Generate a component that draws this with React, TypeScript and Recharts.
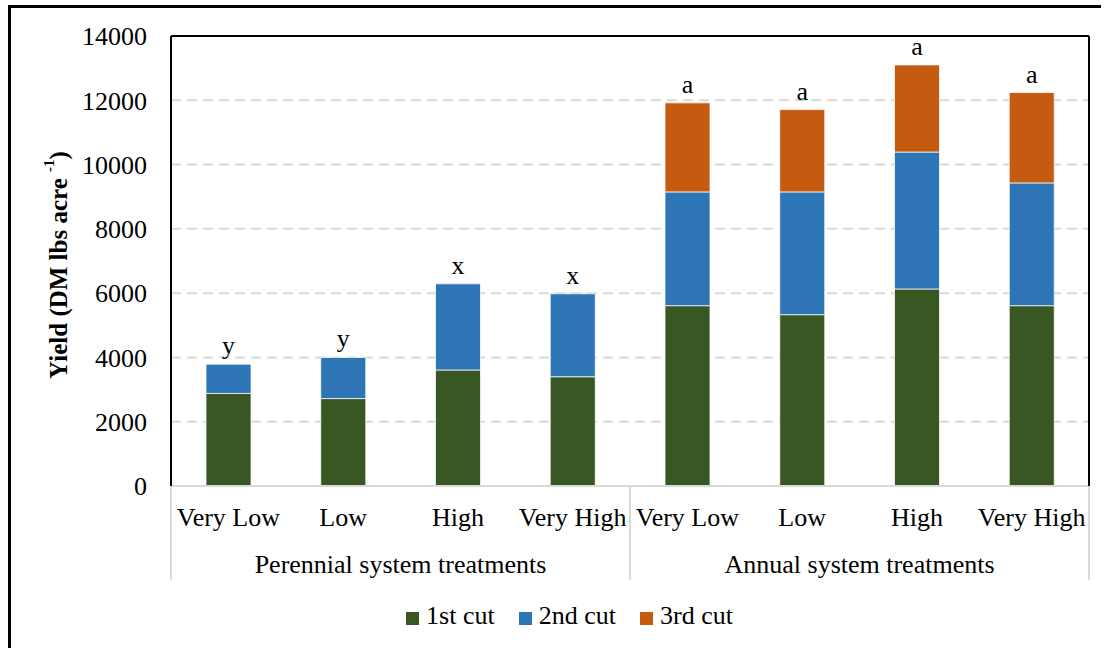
import { BarChart, Bar, XAxis, YAxis, CartesianGrid, Legend, LabelList, Label } from 'recharts'

const CATEGORIES = ['Very Low', 'Low', 'High', 'Very High', 'Very Low', 'Low', 'High', 'Very High']
const GROUPS = ['Perennial system treatments', 'Annual system treatments']
const FIRST_CUT = [2880, 2720, 3610, 3400, 5610, 5330, 6130, 5610]
const SECOND_CUT = [910, 1280, 2680, 2580, 3540, 3820, 4260, 3820]
const THIRD_CUT = [0, 0, 0, 0, 2770, 2560, 2710, 2810]
const LETTERS = ['y', 'y', 'x', 'x', 'a', 'a', 'a', 'a']
const Y_TICKS = [0, 2000, 4000, 6000, 8000, 10000, 12000, 14000]

const FONT = "'Liberation Serif', 'Times New Roman', serif"
const GREEN = '#385723'
const BLUE = '#2E75B6'
const ORANGE = '#C55A11'
const LIGHT = '#D9D9D9'

const data = CATEGORIES.map((name, i) => ({
  name,
  group: GROUPS[i < 4 ? 0 : 1],
  first: FIRST_CUT[i],
  second: SECOND_CUT[i],
  third: THIRD_CUT[i],
  letter: LETTERS[i],
}))

function CategoryTick(props: any) {
  const { x, y, payload, index, width, visibleTicksCount } = props
  const half = (width ?? 918) / (visibleTicksCount || CATEGORIES.length) / 2
  const perGroup = CATEGORIES.length / GROUPS.length
  const lastInGroup = index % perGroup === perGroup - 1
  const midLeft = index % perGroup === perGroup / 2 - 1
  return (
    <g>
      <text x={x} y={y + 40} textAnchor="middle" fontSize={26} fill="#000" fontFamily={FONT}>
        {payload.value}
      </text>
      {midLeft && (
        <text x={x + half} y={y + 87} textAnchor="middle" fontSize={26} fill="#000" fontFamily={FONT}>
          {data[index].group}
        </text>
      )}
      {index === 0 && (
        <line x1={x - half} x2={x - half} y1={y} y2={y + 94} stroke={LIGHT} strokeWidth={2} />
      )}
      {lastInGroup && (
        <line x1={x + half} x2={x + half} y1={y} y2={y + 94} stroke={LIGHT} strokeWidth={2} />
      )}
    </g>
  )
}

function YTitle(props: any) {
  const { viewBox } = props
  const cx = 47
  const cy = viewBox.y + viewBox.height / 2 + 4
  return (
    <text
      x={cx}
      y={cy}
      transform={`rotate(-90, ${cx}, ${cy})`}
      textAnchor="middle"
      dominantBaseline="central"
      fontSize={25}
      fontWeight="bold"
      fill="#000"
      fontFamily={FONT}
    >
      Yield (DM lbs acre <tspan fontSize={15} dy={-9}>-1</tspan>
      <tspan dy={9}>)</tspan>
    </text>
  )
}

function Letter({ x, y, width, value }: any) {
  return (
    <text x={x + width / 2} y={y - 10} textAnchor="middle" fontSize={26} fill="#000" fontFamily={FONT}>
      {value}
    </text>
  )
}

// on the 2nd cut only where no 3rd cut sits above it
function SecondLetter(props: any) {
  if (THIRD_CUT[props.index] > 0) return null
  return <Letter {...props} />
}

export default function App() {
  return (
    <div
      style={{
        position: 'absolute',
        left: 8,
        top: 5,
        width: 1090,
        height: 640,
        borderTop: '3px solid #000',
        borderLeft: '3px solid #000',
        fontFamily: FONT,
        background: '#fff',
      }}
    >
      <BarChart
        width={1090}
        height={640}
        data={data}
        margin={{ top: 27, right: 11, left: 0, bottom: 12 }}
        barSize={45}
      >
        <CartesianGrid vertical={false} stroke={LIGHT} strokeWidth={2} strokeDasharray="10 6" />
        <XAxis
          dataKey="name"
          height={110}
          interval={0}
          tickLine={false}
          tickSize={0}
          tickMargin={0}
          axisLine={{ stroke: LIGHT, strokeWidth: 2 }}
          tick={<CategoryTick />}
        />
        <XAxis
          xAxisId="top"
          dataKey="name"
          orientation="top"
          height={1}
          interval={0}
          tick={false}
          tickLine={false}
          axisLine={{ stroke: '#000', strokeWidth: 2 }}
        />
        <YAxis
          width={160}
          domain={[0, 14000]}
          ticks={Y_TICKS}
          tickLine={false}
          tickSize={0}
          tickMargin={24}
          axisLine={{ stroke: '#000', strokeWidth: 2 }}
          tick={{ fontSize: 26, fill: '#000', fontFamily: FONT }}
        >
          <Label content={<YTitle />} />
        </YAxis>
        <YAxis
          yAxisId="right"
          orientation="right"
          width={1}
          domain={[0, 14000]}
          ticks={Y_TICKS}
          tick={false}
          tickLine={false}
          axisLine={{ stroke: '#000', strokeWidth: 2 }}
        />
        <Legend
          verticalAlign="bottom"
          iconType="square"
          iconSize={13}
          wrapperStyle={{ height: 40, left: 31, fontFamily: FONT, fontSize: 26, lineHeight: '40px' }}
          formatter={(value: string) => (
            <span style={{ color: '#000', marginLeft: 3, marginRight: 14 }}>{value}</span>
          )}
        />
        <Bar dataKey="first" stackId="cut" name="1st cut" fill={GREEN} stroke="#fff" strokeWidth={0.75} isAnimationActive={false} />
        <Bar dataKey="second" stackId="cut" name="2nd cut" fill={BLUE} stroke="#fff" strokeWidth={0.75} isAnimationActive={false}>
          <LabelList dataKey="letter" content={<SecondLetter />} />
        </Bar>
        <Bar dataKey="third" stackId="cut" name="3rd cut" fill={ORANGE} stroke="#fff" strokeWidth={0.75} isAnimationActive={false}>
          <LabelList dataKey="letter" content={<Letter />} />
        </Bar>
      </BarChart>
    </div>
  )
}
